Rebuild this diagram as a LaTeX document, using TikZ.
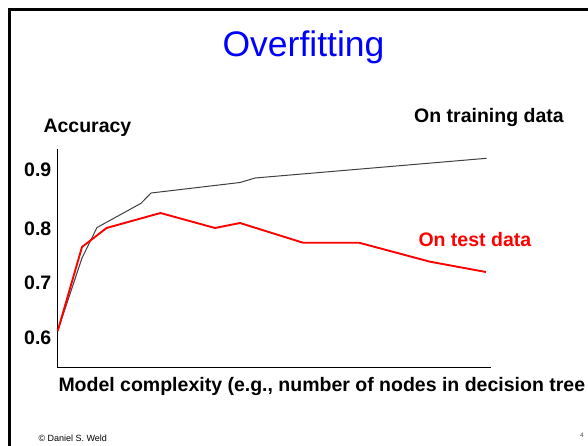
\documentclass[tikz,border=0pt]{standalone}
\usepackage{fontspec}
\setmainfont{Liberation Sans}
\begin{document}
\begin{tikzpicture}[x=1pt,y=-1pt,
  lbl/.style={font=\bfseries\fontsize{19.5}{22}\selectfont, inner sep=0pt},
  tick/.style={lbl, anchor=east},
  axisline/.style={line width=1pt, black},
  traincurve/.style={line width=1pt, black!75, line join=round},
  testcurve/.style={line width=1.9pt, red, line join=round}]
  \useasboundingbox (0,0) rectangle (588,445);
  \fill[white] (0,0) rectangle (588,445);
  \clip (0,0) rectangle (588,445);

  % slide frame (only its top and left edges fall inside the page)
  \draw[line width=2.6pt] (600,9.5) -- (9.3,9.5) -- (9.3,460);

  % title
  \node[anchor=base, inner sep=0pt, text=blue, font=\fontsize{35.5}{40}\selectfont] (title) at (303.5,56) {Overfitting};

  % axes
  \coordinate (ytop) at (57.5,149);
  \coordinate (origin) at (57.5,367.5);
  \coordinate (xend) at (491,367.5);
  \draw[axisline] (ytop) -- (origin) -- (xend);

  % axis labels
  \node[lbl, anchor=base west] (ylabel) at (43.3,132) {Accuracy};
  \node[lbl, anchor=base west] (xlabel) at (58.3,391.5) {Model complexity (e.g., number of nodes in decision tree};

  % tick labels
  \node[tick] (t9) at (51.5,170) {0.9};
  \node[tick] (t8) at (51.5,228.5) {0.8};
  \node[tick] (t7) at (51.5,282.7) {0.7};
  \node[tick] (t6) at (51.5,337.3) {0.6};

  % training-set accuracy
  \draw[traincurve] (57.7,331) -- (82,258) -- (97,227.5) -- (141,203.3) -- (151,193)
    -- (240,182.5) -- (255,178) -- (486.5,158.3);
  % test-set accuracy
  \draw[testcurve] (57.7,331) -- (82,247) -- (106.5,228) -- (160.5,213) -- (215,228)
    -- (240,223) -- (303,242.7) -- (359,242.7) -- (430,261.7) -- (486,272);

  % curve labels
  \node[lbl, anchor=base west] (trainlbl) at (414,122.5) {On training data};
  \node[lbl, anchor=base west, text=red] (testlbl) at (418.3,246) {On test data};

  % footer
  \node[anchor=base west, inner sep=0pt, font=\fontsize{9}{10}\selectfont] (credit) at (38.3,441) {© Daniel S. Weld};
  \node[inner sep=0pt, text=black!70, font=\fontsize{6.5}{7}\selectfont] (pagenum) at (582,435) {4};
\end{tikzpicture}
\end{document}
